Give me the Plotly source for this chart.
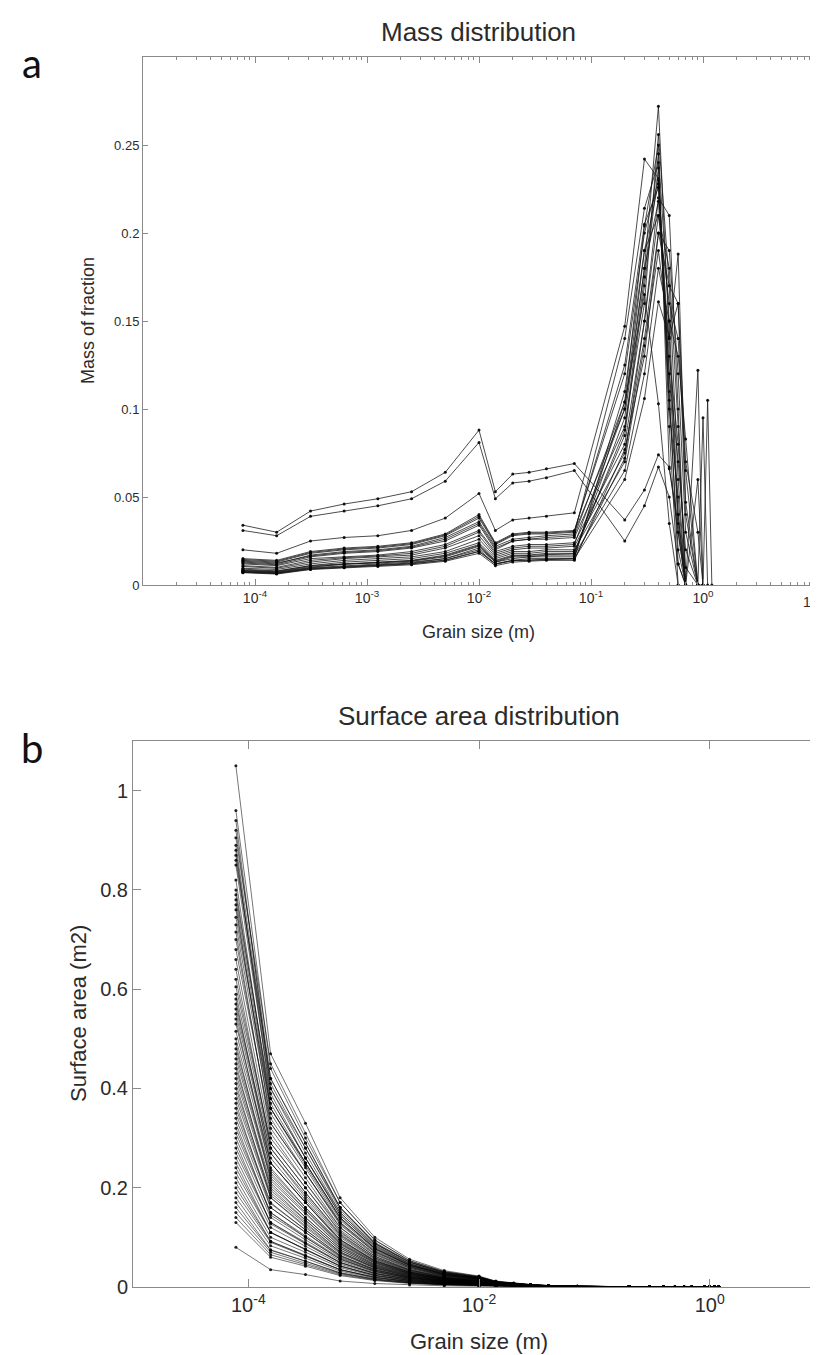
import plotly.graph_objects as go

W, H = 818, 1355

# ---------------- data ----------------
grain_size = [7.8e-5, 1.56e-4, 3.13e-4, 6.25e-4, 1.25e-3, 2.5e-3, 5e-3, 1e-2,
              1.4e-2, 2e-2, 2.8e-2, 4e-2, 7.1e-2, 0.2, 0.3, 0.4, 0.5, 0.6,
              0.7, 0.9, 1.0, 1.1, 1.2]

# panel a: mass of fraction per sample
m01 = [0.034, 0.030, 0.042, 0.046, 0.049, 0.053, 0.064, 0.088, 0.053, 0.063, 0.064, 0.066, 0.069, 0.037, 0.054, 0.074, 0.067, 0.030, 0, None, None, None, None]
m02 = [0.031, 0.028, 0.039, 0.042, 0.045, 0.049, 0.059, 0.081, 0.049, 0.058, 0.059, 0.061, 0.065, 0.025, 0.045, 0.067, 0.050, 0.012, 0, None, None, None, None]
m03 = [0.020, 0.018, 0.025, 0.027, 0.028, 0.031, 0.038, 0.052, 0.031, 0.037, 0.038, 0.039, 0.041, 0.147, 0.242, 0.231, 0.120, 0.040, 0, None, None, None, None]
m04 = [0.015, 0.014, 0.019, 0.021, 0.022, 0.024, 0.029, 0.040, 0.024, 0.029, 0.030, 0.030, 0.031, 0.120, 0.200, 0.230, 0.110, 0.012, 0, None, None, None, None]
m05 = [0.014, 0.013, 0.018, 0.020, 0.021, 0.023, 0.028, 0.038, 0.023, 0.028, 0.029, 0.029, 0.030, 0.100, 0.180, 0.272, 0.140, 0.030, 0, None, None, None, None]
m06 = [0.013, 0.012, 0.017, 0.019, 0.020, 0.022, 0.027, 0.036, 0.022, 0.026, 0.027, 0.028, 0.029, 0.140, 0.214, 0.240, 0.090, 0, None, None, None, None, None]
m07 = [0.0125, 0.0115, 0.016, 0.018, 0.019, 0.021, 0.025, 0.034, 0.020, 0.025, 0.026, 0.026, 0.027, 0.090, 0.160, 0.256, 0.170, 0.060, 0, None, None, None, None]
m08 = [0.012, 0.011, 0.015, 0.016, 0.017, 0.019, 0.023, 0.031, 0.019, 0.022, 0.023, 0.023, 0.024, 0.080, 0.150, 0.220, 0.210, 0.100, 0, None, None, None, None]
m09 = [0.0105, 0.0095, 0.013, 0.015, 0.016, 0.017, 0.021, 0.028, 0.017, 0.020, 0.021, 0.021, 0.022, 0.075, 0.140, 0.200, 0.170, 0.160, 0.040, 0, None, None, None]
m10 = [0.0095, 0.0088, 0.012, 0.014, 0.015, 0.016, 0.019, 0.026, 0.016, 0.019, 0.019, 0.020, 0.020, 0.070, 0.136, 0.190, 0.140, 0.188, 0.047, 0, None, None, None]
m11 = [0.009, 0.008, 0.011, 0.013, 0.014, 0.015, 0.018, 0.024, 0.015, 0.018, 0.018, 0.019, 0.019, 0.085, 0.170, 0.237, 0.100, 0.050, 0, 0.122, 0, None, None]
m12 = [0.0085, 0.0078, 0.011, 0.012, 0.013, 0.014, 0.017, 0.023, 0.014, 0.017, 0.017, 0.018, 0.018, 0.095, 0.180, 0.218, 0.120, 0.070, 0.020, 0, 0, 0.105, 0]
m13 = [0.008, 0.0073, 0.010, 0.012, 0.0125, 0.0135, 0.016, 0.022, 0.013, 0.016, 0.016, 0.017, 0.017, 0.065, 0.120, 0.180, 0.150, 0.130, 0.083, 0, 0.095, 0, None]
m14 = [0.0078, 0.007, 0.0098, 0.011, 0.012, 0.013, 0.015, 0.021, 0.013, 0.015, 0.016, 0.016, 0.016, 0.104, 0.204, 0.250, 0.066, 0.035, 0, 0.060, 0, None, None]
m15 = [0.0075, 0.0068, 0.0095, 0.0105, 0.0115, 0.0125, 0.015, 0.020, 0.012, 0.014, 0.015, 0.015, 0.015, 0.110, 0.190, 0.210, 0.180, 0.090, 0, None, None, None, None]
m16 = [0.0072, 0.0065, 0.009, 0.010, 0.011, 0.012, 0.014, 0.019, 0.012, 0.014, 0.014, 0.0145, 0.015, 0.060, 0.106, 0.161, 0.141, 0.160, 0.070, 0.030, 0, None, None]
m17 = [0.007, 0.0062, 0.0088, 0.0098, 0.0105, 0.0115, 0.0135, 0.018, 0.011, 0.013, 0.0135, 0.014, 0.014, 0.077, 0.130, 0.200, 0.190, 0.120, 0.030, 0, None, None, None]
m18 = [0.0135, 0.0125, 0.0165, 0.0185, 0.0195, 0.0215, 0.026, 0.035, 0.021, 0.025, 0.026, 0.027, 0.028, 0.104, 0.165, 0.103, 0.035, 0, None, None, None, None, None]
m19 = [0.011, 0.010, 0.014, 0.0155, 0.0165, 0.018, 0.022, 0.030, 0.018, 0.021, 0.022, 0.022, 0.023, 0.100, 0.190, 0.228, 0.130, 0.080, 0.010, 0, None, None, None]
m20 = [0.0082, 0.0075, 0.0105, 0.0118, 0.0128, 0.0138, 0.0165, 0.0225, 0.0135, 0.0165, 0.0168, 0.0175, 0.0178, 0.088, 0.175, 0.245, 0.150, 0.040, 0, None, None, None, None]
m21 = [0.0145, 0.0135, 0.0185, 0.0205, 0.0215, 0.0235, 0.0285, 0.039, 0.0235, 0.0285, 0.0295, 0.0295, 0.0305, 0.125, 0.205, 0.226, 0.105, 0.020, 0, None, None, None, None]
m22 = [0.0073, 0.0066, 0.0092, 0.0102, 0.0112, 0.0122, 0.0142, 0.0192, 0.0118, 0.0138, 0.0142, 0.0146, 0.0148, 0.072, 0.150, 0.210, 0.160, 0.140, 0.065, 0, None, None, None]
mass_series = [m01, m02, m03, m04, m05, m06, m07, m08, m09, m10, m11,
               m12, m13, m14, m15, m16, m17, m18, m19, m20, m21, m22]

# panel b: surface area per sample (first 13 grain sizes), then a common near-zero tail
a01 = [1.05, 0.47, 0.33, 0.18, 0.100, 0.056, 0.033, 0.022, 0.012, 0.008, 0.005, 0.003, 0.0015]
a02 = [0.96, 0.44, 0.30, 0.17, 0.095, 0.053, 0.031, 0.021, 0.011, 0.0075, 0.0048, 0.003, 0.0014]
a03 = [0.92, 0.42, 0.29, 0.16, 0.090, 0.051, 0.030, 0.020, 0.011, 0.007, 0.0045, 0.0028, 0.0014]
a04 = [0.89, 0.41, 0.28, 0.155, 0.087, 0.049, 0.029, 0.0195, 0.010, 0.007, 0.0044, 0.0027, 0.0013]
a05 = [0.87, 0.40, 0.27, 0.150, 0.085, 0.047, 0.028, 0.019, 0.010, 0.0068, 0.0043, 0.0026, 0.0013]
a06 = [0.85, 0.39, 0.26, 0.145, 0.082, 0.046, 0.027, 0.0185, 0.0098, 0.0066, 0.0042, 0.0026, 0.0012]
a07 = [0.80, 0.37, 0.25, 0.138, 0.078, 0.044, 0.026, 0.0175, 0.0094, 0.0063, 0.004, 0.0025, 0.0012]
a08 = [0.78, 0.36, 0.245, 0.135, 0.076, 0.043, 0.025, 0.017, 0.009, 0.006, 0.0039, 0.0024, 0.0011]
a09 = [0.76, 0.35, 0.24, 0.13, 0.074, 0.042, 0.024, 0.0165, 0.0088, 0.0059, 0.0038, 0.0023, 0.0011]
a10 = [0.73, 0.34, 0.23, 0.125, 0.071, 0.040, 0.023, 0.0158, 0.0085, 0.0057, 0.0036, 0.0022, 0.0011]
a11 = [0.70, 0.32, 0.22, 0.12, 0.068, 0.038, 0.022, 0.015, 0.0082, 0.0055, 0.0035, 0.0021, 0.001]
a12 = [0.66, 0.30, 0.21, 0.115, 0.065, 0.036, 0.021, 0.0142, 0.0078, 0.0052, 0.0033, 0.002, 0.001]
a13 = [0.62, 0.29, 0.20, 0.11, 0.062, 0.034, 0.020, 0.0135, 0.0074, 0.005, 0.0032, 0.0019, 0.0009]
a14 = [0.59, 0.28, 0.19, 0.105, 0.059, 0.033, 0.019, 0.0128, 0.007, 0.0047, 0.003, 0.0018, 0.0009]
a15 = [0.57, 0.27, 0.18, 0.10, 0.056, 0.031, 0.018, 0.0122, 0.0067, 0.0045, 0.0029, 0.0017, 0.0008]
a16 = [0.55, 0.26, 0.175, 0.096, 0.054, 0.030, 0.0175, 0.0118, 0.0064, 0.0043, 0.0028, 0.0017, 0.0008]
a17 = [0.53, 0.25, 0.17, 0.092, 0.052, 0.029, 0.017, 0.0113, 0.0062, 0.0042, 0.0027, 0.0016, 0.0008]
a18 = [0.50, 0.24, 0.16, 0.088, 0.050, 0.028, 0.016, 0.0108, 0.0059, 0.004, 0.0026, 0.0015, 0.0007]
a19 = [0.48, 0.23, 0.155, 0.085, 0.048, 0.027, 0.0155, 0.0104, 0.0057, 0.0038, 0.0025, 0.0015, 0.0007]
a20 = [0.46, 0.22, 0.15, 0.082, 0.046, 0.026, 0.015, 0.010, 0.0054, 0.0036, 0.0024, 0.0014, 0.0007]
a21 = [0.44, 0.21, 0.14, 0.078, 0.044, 0.025, 0.0142, 0.0095, 0.0052, 0.0035, 0.0023, 0.0014, 0.0006]
a22 = [0.42, 0.20, 0.135, 0.074, 0.042, 0.0235, 0.0135, 0.009, 0.005, 0.0033, 0.0022, 0.0013, 0.0006]
a23 = [0.40, 0.19, 0.13, 0.070, 0.040, 0.0225, 0.013, 0.0087, 0.0047, 0.0032, 0.002, 0.0012, 0.0006]
a24 = [0.38, 0.18, 0.12, 0.067, 0.038, 0.021, 0.0122, 0.0082, 0.0045, 0.003, 0.0019, 0.0012, 0.0006]
a25 = [0.36, 0.17, 0.115, 0.063, 0.036, 0.020, 0.0116, 0.0078, 0.0042, 0.0028, 0.0018, 0.0011, 0.0005]
a26 = [0.34, 0.16, 0.11, 0.060, 0.034, 0.019, 0.011, 0.0074, 0.004, 0.0027, 0.0017, 0.001, 0.0005]
a27 = [0.32, 0.15, 0.10, 0.056, 0.032, 0.018, 0.0103, 0.0069, 0.0038, 0.0025, 0.0016, 0.001, 0.0005]
a28 = [0.30, 0.14, 0.095, 0.053, 0.030, 0.0168, 0.0097, 0.0065, 0.0035, 0.0024, 0.0015, 0.0009, 0.0004]
a29 = [0.28, 0.13, 0.088, 0.049, 0.028, 0.0157, 0.009, 0.006, 0.0033, 0.0022, 0.0014, 0.0008, 0.0004]
a30 = [0.26, 0.12, 0.082, 0.046, 0.026, 0.0146, 0.0084, 0.0056, 0.003, 0.002, 0.0013, 0.0008, 0.0004]
a31 = [0.24, 0.11, 0.076, 0.042, 0.024, 0.0135, 0.0078, 0.0052, 0.0028, 0.0019, 0.0012, 0.0007, 0.0003]
a32 = [0.22, 0.10, 0.070, 0.039, 0.022, 0.0124, 0.0071, 0.0048, 0.0026, 0.0017, 0.0011, 0.0007, 0.0003]
a33 = [0.20, 0.092, 0.064, 0.035, 0.020, 0.0112, 0.0065, 0.0043, 0.0024, 0.0016, 0.001, 0.0006, 0.0003]
a34 = [0.18, 0.083, 0.058, 0.032, 0.018, 0.0101, 0.0058, 0.0039, 0.0021, 0.0014, 0.0009, 0.0005, 0.0003]
a35 = [0.16, 0.074, 0.052, 0.028, 0.016, 0.009, 0.0052, 0.0035, 0.0019, 0.0013, 0.0008, 0.0005, 0.0002]
a36 = [0.14, 0.065, 0.045, 0.025, 0.014, 0.0079, 0.0046, 0.0031, 0.0017, 0.0011, 0.0007, 0.0004, 0.0002]
a37 = [0.13, 0.060, 0.042, 0.023, 0.013, 0.0073, 0.0042, 0.0028, 0.0015, 0.001, 0.0007, 0.0004, 0.0002]
a38 = [0.08, 0.035, 0.025, 0.012, 0.007, 0.004, 0.0024, 0.0016, 0.0008, 0.0005, 0.0003, 0.0002, 0.0001]
a39 = [0.94, 0.40, 0.28, 0.16, 0.088, 0.050, 0.029, 0.0195, 0.0104, 0.007, 0.0045, 0.0027, 0.0013]
a40 = [0.905, 0.45, 0.31, 0.17, 0.094, 0.053, 0.031, 0.021, 0.011, 0.0074, 0.0047, 0.0028, 0.0014]
a41 = [0.88, 0.38, 0.26, 0.15, 0.083, 0.047, 0.027, 0.018, 0.0097, 0.0065, 0.0042, 0.0025, 0.0012]
a42 = [0.86, 0.42, 0.29, 0.16, 0.088, 0.050, 0.029, 0.0195, 0.0104, 0.007, 0.0045, 0.0027, 0.0013]
a43 = [0.82, 0.36, 0.25, 0.14, 0.078, 0.044, 0.026, 0.0172, 0.0092, 0.0062, 0.004, 0.0024, 0.0012]
a44 = [0.79, 0.38, 0.26, 0.145, 0.080, 0.045, 0.026, 0.0175, 0.0093, 0.0062, 0.004, 0.0024, 0.0012]
a45 = [0.77, 0.33, 0.23, 0.13, 0.072, 0.041, 0.024, 0.016, 0.0085, 0.0057, 0.0036, 0.0022, 0.0011]
a46 = [0.745, 0.36, 0.25, 0.14, 0.077, 0.044, 0.025, 0.017, 0.009, 0.006, 0.0039, 0.0023, 0.0012]
a47 = [0.715, 0.31, 0.21, 0.12, 0.066, 0.038, 0.022, 0.0147, 0.0078, 0.0052, 0.0033, 0.002, 0.001]
a48 = [0.68, 0.33, 0.23, 0.128, 0.070, 0.040, 0.023, 0.0155, 0.0082, 0.0055, 0.0035, 0.0021, 0.0011]
a49 = [0.64, 0.28, 0.19, 0.107, 0.059, 0.034, 0.0195, 0.013, 0.0069, 0.0046, 0.003, 0.0018, 0.0009]
a50 = [0.605, 0.29, 0.20, 0.112, 0.062, 0.035, 0.020, 0.0135, 0.0072, 0.0048, 0.0031, 0.0019, 0.0009]
a51 = [0.58, 0.25, 0.17, 0.095, 0.053, 0.030, 0.0175, 0.0117, 0.0062, 0.0042, 0.0027, 0.0016, 0.0008]
a52 = [0.56, 0.27, 0.185, 0.103, 0.057, 0.032, 0.0186, 0.0125, 0.0066, 0.0044, 0.0028, 0.0017, 0.0008]
a53 = [0.54, 0.235, 0.16, 0.09, 0.050, 0.028, 0.0163, 0.011, 0.0058, 0.0039, 0.0025, 0.0015, 0.0007]
a54 = [0.515, 0.25, 0.17, 0.095, 0.052, 0.030, 0.0172, 0.0115, 0.0061, 0.0041, 0.0026, 0.0016, 0.0008]
a55 = [0.49, 0.215, 0.147, 0.082, 0.045, 0.026, 0.015, 0.010, 0.0053, 0.0036, 0.0023, 0.0014, 0.0007]
a56 = [0.47, 0.225, 0.155, 0.087, 0.048, 0.027, 0.0157, 0.0105, 0.0056, 0.0037, 0.0024, 0.0014, 0.0007]
a57 = [0.45, 0.195, 0.134, 0.075, 0.041, 0.0235, 0.0136, 0.0091, 0.0048, 0.0032, 0.0021, 0.0012, 0.0006]
a58 = [0.43, 0.205, 0.14, 0.079, 0.043, 0.0245, 0.0142, 0.0095, 0.005, 0.0034, 0.0022, 0.0013, 0.0006]
a59 = [0.41, 0.18, 0.123, 0.069, 0.038, 0.0216, 0.0125, 0.0084, 0.0045, 0.003, 0.0019, 0.0011, 0.0006]
a60 = [0.39, 0.185, 0.127, 0.071, 0.039, 0.0222, 0.0129, 0.0086, 0.0046, 0.0031, 0.002, 0.0012, 0.0006]
a61 = [0.37, 0.16, 0.11, 0.062, 0.034, 0.0194, 0.0112, 0.0075, 0.004, 0.0027, 0.0017, 0.001, 0.0005]
a62 = [0.35, 0.168, 0.115, 0.064, 0.035, 0.020, 0.0116, 0.0078, 0.0041, 0.0028, 0.0018, 0.0011, 0.0005]
a63 = [0.33, 0.145, 0.10, 0.056, 0.031, 0.0176, 0.0102, 0.0068, 0.0036, 0.0024, 0.0016, 0.0009, 0.0005]
a64 = [0.31, 0.15, 0.103, 0.058, 0.032, 0.018, 0.0105, 0.007, 0.0037, 0.0025, 0.0016, 0.001, 0.0005]
a65 = [0.29, 0.127, 0.087, 0.049, 0.027, 0.0154, 0.0089, 0.006, 0.0032, 0.0021, 0.0014, 0.0008, 0.0004]
a66 = [0.27, 0.13, 0.09, 0.05, 0.0275, 0.0157, 0.0091, 0.0061, 0.0032, 0.0022, 0.0014, 0.0008, 0.0004]
a67 = [0.25, 0.11, 0.075, 0.042, 0.023, 0.0131, 0.0076, 0.0051, 0.0027, 0.0018, 0.0012, 0.0007, 0.0004]
a68 = [0.23, 0.11, 0.076, 0.043, 0.0235, 0.0134, 0.0078, 0.0052, 0.0028, 0.0019, 0.0012, 0.0007, 0.0004]
a69 = [0.21, 0.092, 0.063, 0.035, 0.0195, 0.0111, 0.0064, 0.0043, 0.0023, 0.0015, 0.001, 0.0006, 0.0003]
a70 = [0.19, 0.09, 0.062, 0.035, 0.019, 0.0108, 0.0063, 0.0042, 0.0022, 0.0015, 0.001, 0.0006, 0.0003]
a71 = [0.17, 0.075, 0.052, 0.029, 0.016, 0.0091, 0.0053, 0.0035, 0.0019, 0.0013, 0.0008, 0.0005, 0.0002]
a72 = [0.15, 0.07, 0.048, 0.027, 0.0148, 0.0084, 0.0049, 0.0033, 0.0017, 0.0012, 0.0007, 0.0004, 0.0002]
area_series = [a01, a02, a03, a04, a05, a06, a07, a08, a09, a10, a11, a12, a13,
               a14, a15, a16, a17, a18, a19, a20, a21, a22, a23, a24, a25, a26,
               a27, a28, a29, a30, a31, a32, a33, a34, a35, a36, a37, a38,
               a39, a40, a41, a42, a43, a44, a45, a46, a47, a48, a49, a50,
               a51, a52, a53, a54, a55, a56, a57, a58, a59, a60, a61, a62,
               a63, a64, a65, a66, a67, a68, a69, a70, a71, a72]
area_tail = [0.0006, 0.0004, 0.0003, 0.0002, 0.0002, 0.0001, 0.0001, 0.0001, 0.0001, 0.0001]

mass_ticks = [0, 0.05, 0.1, 0.15, 0.2, 0.25]
mass_ticklabels = ["0", "0.05", "0.1", "0.15", "0.2", "0.25"]
area_ticks = [0, 0.2, 0.4, 0.6, 0.8, 1.0]
area_ticklabels = ["0", "0.2", "0.4", "0.6", "0.8", "1"]
xa_ticks = [1e-5, 1e-4, 1e-3, 1e-2, 1e-1, 1e0, 1e1]
xa_ticklabels = ["", "10<sup>-4</sup>", "10<sup>-3</sup>", "10<sup>-2</sup>", "10<sup>-1</sup>", "10<sup>0</sup>", ""]
xa_edge_label = "10<sup>1</sup>"
xb_ticks = [1e-4, 1e-2, 1e0]
xb_ticklabels = ["10<sup>-4</sup>", "10<sup>-2</sup>", "10<sup>0</sup>"]

# ---------------- figure ----------------
FONT = "Liberation Sans, Arial, Helvetica, sans-serif"
AX = "#8a8a8a"
TXT = "#2b2b2b"

fig = go.Figure()
for s in mass_series:
    fig.add_trace(go.Scatter(
        x=grain_size, y=s, mode="lines+markers", xaxis="x", yaxis="y",
        line=dict(color="rgba(20,20,20,0.85)", width=0.9),
        marker=dict(size=3, color="rgba(0,0,0,0.9)"),
        showlegend=False, hoverinfo="skip"))
for s in area_series:
    fig.add_trace(go.Scatter(
        x=grain_size, y=s + area_tail, mode="lines+markers", xaxis="x2", yaxis="y2",
        line=dict(color="rgba(0,0,0,0.6)", width=0.9),
        marker=dict(size=3, color="rgba(0,0,0,0.85)"),
        showlegend=False, hoverinfo="skip"))

minor_a = [m * 10.0 ** e for e in range(-5, 1) for m in range(2, 10)]

common = dict(showline=True, linecolor=AX, linewidth=1, mirror="allticks",
              ticks="inside", tickcolor=AX, tickwidth=1, showgrid=False,
              zeroline=False, automargin=False)

fig.update_layout(
    width=W, height=H, autosize=False,
    margin=dict(l=0, r=0, t=0, b=0),
    paper_bgcolor="white", plot_bgcolor="white",
    font=dict(family=FONT, color=TXT),
    xaxis=dict(type="log", range=[-5, 1], domain=[135 / W, 807 / W], anchor="y",
               tickmode="array", tickvals=xa_ticks, ticktext=xa_ticklabels,
               ticklen=6, tickfont=dict(size=14, color=TXT, family=FONT),
               minor=dict(tickvals=minor_a, ticks="inside", ticklen=3,
                          tickcolor=AX, showgrid=False),
               **common),
    yaxis=dict(range=[0, 0.3], domain=[1 - 577 / H, 1 - 49 / H], anchor="x",
               tickmode="array", tickvals=mass_ticks, ticktext=mass_ticklabels,
               ticklen=5, tickfont=dict(size=13, color=TXT, family=FONT), **common),
    xaxis2=dict(type="log", range=[-5, 1], domain=[125 / W, 817 / W], anchor="y2",
                tickmode="array", tickvals=xb_ticks, ticktext=xb_ticklabels,
                ticklen=8, tickfont=dict(size=20, color=TXT, family=FONT), **common),
    yaxis2=dict(range=[0, 1.1], domain=[1 - 1279 / H, 1 - 733 / H], anchor="x2",
                tickmode="array", tickvals=area_ticks, ticktext=area_ticklabels,
                ticklen=8, tickfont=dict(size=20, color=TXT, family=FONT), **common),
)

def ann(text, x, y, size, angle=0, family=FONT, color=TXT, xanchor="center"):
    fig.add_annotation(text=text, x=x / W, y=1 - y / H, xref="paper", yref="paper",
                       showarrow=False, textangle=angle, xanchor=xanchor,
                       yanchor="middle", font=dict(size=size, family=family, color=color))

ann("Mass distribution", 471, 24, 26)
ann("Surface area distribution", 471, 708, 26)
ann("a", 24, 55, 40, family="Lato, Open Sans, sans-serif", color="#111")
ann("b", 24, 740, 40, family="Lato, Open Sans, sans-serif", color="#111")
ann(xa_edge_label, 818, 593, 14, xanchor="right")
ann("Grain size (m)", 471, 624, 18)
ann("Grain size (m)", 471, 1333, 22)
ann("Mass of fraction", 80, 313, 18, angle=-90)
ann("Surface area (m2)", 70, 1006, 22, angle=-90)

fig.write_html("out.html")
